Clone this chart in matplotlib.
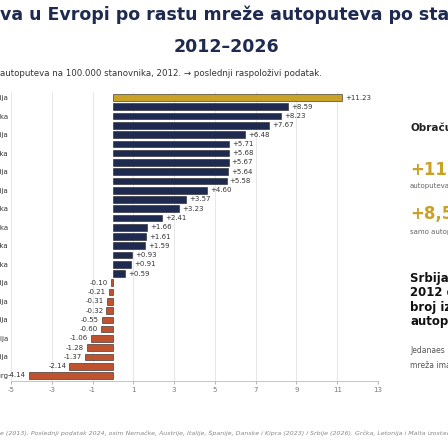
import matplotlib
matplotlib.use("Agg")
import matplotlib.pyplot as plt

values = [11.23, 8.59, 8.23, 7.67, 6.48, 5.71, 5.68, 5.67, 5.64, 5.58, 4.60, 3.57, 3.23, 2.41,
          1.66, 1.61, 1.59, 0.93, 0.91, 0.59, -0.10, -0.21, -0.31, -0.32, -0.55, -0.60,
          -1.06, -1.28, -1.37, -2.14, -4.14]
names = ["Srbija", "Hrvatska", "Slovenija", "Bugarska", "Litvanija", "Austrija", "Poljska",
         "Slovačka", "Mađarska", "Češka", "Rumunija", "Estonija", "Belgija", "Italija",
         "Holandija", "Luksemburg"]
xticks = [-5, -3, -1, 1, 3, 5, 7, 9, 11, 13]

fig = plt.figure(figsize=(4.48, 4.48), dpi=100)
ax = fig.add_axes([11/448, 1-381/448, 367/448, 289/448])
n = len(values)
ys = list(range(n))
colors = []
for i, v in enumerate(values):
    if i == 0:
        colors.append("#C9A227")
    elif v > 0:
        colors.append("#1E2A4F")
    else:
        colors.append("#C0532F")
ax.barh(ys, values, height=0.72, color=colors, edgecolor="#222222", linewidth=0.4, zorder=3)
for y, v in zip(ys, values):
    if v > 0:
        ax.text(v + 0.15, y, f"+{v:.2f}", va="center", ha="left", fontsize=5, color="#333333")
    else:
        ax.text(v - 0.15, y, f"{v:.2f}", va="center", ha="right", fontsize=5, color="#333333")
ax.set_ylim(n - 0.4, -0.6)
ax.set_xlim(-5, 13)
ax.set_xticks(xticks)
ax.set_xticklabels([str(t) for t in xticks], fontsize=5, color="#777777")
ax.set_yticks(ys[::2])
ax.set_yticklabels(names, fontsize=5, color="#333333")
ax.tick_params(axis="y", length=0, pad=2)
ax.tick_params(axis="x", length=2, color="#bbbbbb", pad=2)
ax.grid(axis="x", color="#e3e3e3", linewidth=0.6, zorder=0)
for s in ["top", "right", "left"]:
    ax.spines[s].set_visible(False)
ax.spines["bottom"].set_color("#bbbbbb")
ax.spines["bottom"].set_linewidth(0.6)

fig.text(0.0, 1-15/448, "va u Evropi po rastu mreže autoputeva po stanovniku", fontsize=12.5,
         fontweight="bold", color="#1E2A4F", va="center", ha="left")
fig.text(226/448, 1-47/448, "2012–2026", fontsize=12.5, fontweight="bold", color="#1E2A4F",
         va="center", ha="center")
fig.text(0.0, 1-74/448, "autoputeva na 100.000 stanovnika, 2012. → poslednji raspoloživi podatak.",
         fontsize=6.2, color="#333333", va="center", ha="left")
fig.text(410/448, 1-128/448, "Obračun", fontsize=7.5, fontweight="bold", color="#222222", va="center")
fig.text(410/448, 1-170/448, "+11,23", fontsize=12, fontweight="bold", color="#C9A227", va="center")
fig.text(410/448, 1-186/448, "autoputeva", fontsize=5, color="#666666", va="center")
fig.text(410/448, 1-214/448, "+8,59", fontsize=12, fontweight="bold", color="#C9A227", va="center")
fig.text(410/448, 1-232/448, "samo autoputeva", fontsize=5, color="#666666", va="center")
fig.text(410/448, 1-300/448, "Srbija je\n2012 do\nbroj izgr\nautoputeva", fontsize=8.5,
         fontweight="bold", color="#111111", va="center", linespacing=1.15)
fig.text(410/448, 1-358/448, "Jedanaes\nmreža ima", fontsize=5.5, color="#555555", va="center",
         linespacing=1.9)
fig.text(0.0, 1-433/448, "e (2013). Poslednji podatak 2024, osim Nemačke, Austrije, Italije, Španije, "
         "Danske i Kipra (2023) i Srbije (2026). Grčka, Letonija i Malta izostavljene",
         fontsize=4.5, style="italic", color="#888888", va="center", ha="left")
fig.savefig("out.png", dpi=100)
